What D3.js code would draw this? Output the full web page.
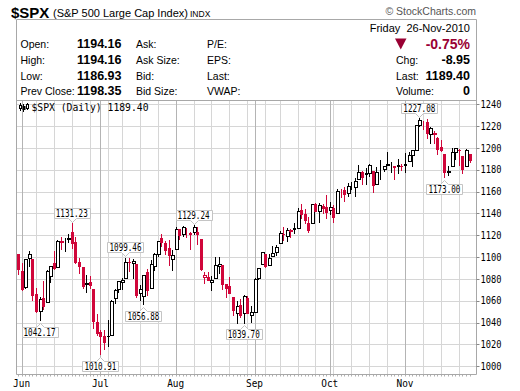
<!DOCTYPE html>
<html><head><meta charset="utf-8">
<script src="https://cdn.jsdelivr.net/npm/d3@7"></script>
<style>body{margin:0;background:#fff}svg{display:block}</style>
</head><body>
<script>
const dates = ["05-28",
"06-01","06-02","06-03","06-04","06-07","06-08","06-09","06-10","06-11","06-14","06-15","06-16","06-17","06-18","06-21","06-22","06-23","06-24","06-25","06-28","06-29","06-30",
"07-01","07-02","07-06","07-07","07-08","07-09","07-12","07-13","07-14","07-15","07-16","07-19","07-20","07-21","07-22","07-23","07-26","07-27","07-28","07-29","07-30",
"08-02","08-03","08-04","08-05","08-06","08-09","08-10","08-11","08-12","08-13","08-16","08-17","08-18","08-19","08-20","08-23","08-24","08-25","08-26","08-27","08-30","08-31",
"09-01","09-02","09-03","09-07","09-08","09-09","09-10","09-13","09-14","09-15","09-16","09-17","09-20","09-21","09-22","09-23","09-24","09-27","09-28","09-29","09-30",
"10-01","10-04","10-05","10-06","10-07","10-08","10-11","10-12","10-13","10-14","10-15","10-18","10-19","10-20","10-21","10-22","10-25","10-26","10-27","10-28","10-29",
"11-01","11-02","11-03","11-04","11-05","11-08","11-09","11-10","11-11","11-12","11-15","11-16","11-17","11-18","11-19","11-22","11-23","11-24","11-26"];

const opens = [1102.59,
1087.30,1073.01,1098.82,1098.43,1065.84,1050.81,1062.75,1058.77,1082.65,1095.00,1091.21,1114.02,1115.98,1116.16,1122.79,1113.90,1095.57,1090.93,1075.10,1077.50,1071.10,1040.56,
1031.10,1027.65,1028.09,1028.54,1062.92,1070.50,1077.23,1080.65,1095.61,1094.46,1093.85,1066.85,1064.53,1086.67,1072.14,1092.17,1102.89,1117.36,1112.84,1108.07,1098.44,
1107.53,1125.34,1121.06,1125.78,1122.07,1122.80,1122.92,1116.89,1081.48,1082.22,1077.49,1081.16,1092.08,1092.44,1075.63,1073.36,1063.20,1048.98,1056.28,1049.27,1062.90,1046.88,
1049.72,1080.66,1093.61,1102.60,1092.36,1101.15,1104.57,1113.38,1121.16,1119.43,1123.89,1126.39,1126.57,1142.82,1139.49,1131.10,1131.69,1148.64,1142.31,1146.75,1145.97,
1143.49,1144.96,1140.68,1159.81,1161.57,1158.36,1165.32,1164.28,1171.32,1177.82,1177.47,1176.83,1178.64,1166.74,1179.56,1180.52,1184.74,1184.88,1183.84,1184.47,1183.87,
1185.71,1187.86,1193.79,1198.34,1221.20,1223.24,1223.59,1213.14,1213.04,1209.07,1200.44,1194.79,1178.33,1183.75,1196.12,1198.07,1192.51,1183.70,1194.16];

const highs = [1102.59,
1094.77,1098.56,1105.67,1098.43,1071.36,1063.15,1077.74,1087.85,1092.25,1105.91,1115.59,1118.74,1117.72,1121.01,1131.23,1118.50,1099.64,1090.93,1083.56,1082.60,1071.10,1048.08,
1033.58,1032.95,1042.50,1060.89,1071.25,1078.16,1080.78,1099.46,1099.08,1098.66,1093.85,1074.70,1083.94,1088.96,1097.50,1103.73,1115.01,1120.95,1114.66,1115.90,1106.44,
1127.30,1125.44,1128.75,1126.56,1123.06,1129.24,1127.16,1116.89,1086.72,1086.25,1082.62,1100.14,1099.77,1092.44,1075.63,1081.58,1063.20,1059.38,1061.45,1065.21,1064.40,1055.14,
1081.30,1090.10,1105.10,1102.60,1103.26,1110.27,1110.88,1123.87,1127.36,1126.46,1125.44,1131.47,1144.86,1148.59,1144.38,1136.77,1148.90,1149.92,1150.00,1148.63,1157.16,
1150.30,1148.16,1162.76,1162.33,1163.87,1167.73,1168.68,1172.58,1184.38,1178.89,1181.20,1185.53,1178.64,1182.94,1189.43,1183.93,1196.14,1187.11,1183.84,1189.53,1185.46,
1195.81,1195.88,1198.30,1221.25,1227.08,1224.57,1226.84,1218.75,1215.45,1210.50,1207.43,1194.79,1183.56,1200.29,1199.97,1198.94,1192.51,1198.62,1194.16];

const lows = [1084.78,
1069.89,1072.03,1091.81,1060.50,1049.86,1042.17,1052.25,1058.77,1077.12,1089.03,1091.21,1107.13,1105.87,1113.93,1108.24,1094.18,1085.31,1071.60,1067.89,1071.45,1035.18,1028.33,
1010.91,1015.93,1018.35,1028.54,1058.24,1068.10,1070.45,1080.65,1087.68,1080.53,1063.32,1061.11,1056.88,1065.25,1072.14,1087.88,1101.30,1109.78,1103.11,1092.82,1088.01,
1107.53,1116.76,1119.46,1118.81,1107.17,1120.91,1111.58,1088.55,1076.69,1079.00,1069.49,1081.16,1085.76,1070.66,1063.91,1067.08,1046.68,1039.83,1045.40,1039.70,1048.79,1040.88,
1049.72,1080.39,1093.61,1091.15,1092.36,1101.15,1101.66,1113.38,1115.58,1114.63,1118.88,1122.43,1126.57,1136.22,1131.58,1122.79,1131.69,1142.00,1132.09,1140.26,1136.08,
1139.42,1131.87,1140.68,1154.85,1151.41,1155.58,1162.02,1155.71,1171.32,1166.71,1167.12,1174.55,1159.71,1166.74,1171.17,1178.99,1184.74,1177.72,1171.70,1177.10,1179.70,
1177.65,1187.86,1183.56,1198.34,1220.29,1217.55,1208.94,1204.33,1204.49,1194.08,1197.15,1173.00,1175.44,1183.75,1189.96,1184.58,1176.91,1183.70,1186.93];

const closes = [1089.41,
1070.71,1098.38,1102.83,1064.88,1050.47,1062.00,1055.69,1086.84,1091.60,1089.63,1115.23,1114.61,1116.04,1117.51,1113.20,1095.31,1092.04,1073.69,1076.76,1074.57,1041.24,1030.71,
1027.37,1022.58,1028.06,1060.27,1070.25,1077.96,1078.75,1095.34,1095.17,1096.48,1064.88,1071.25,1083.48,1069.59,1093.67,1102.66,1115.01,1113.84,1106.13,1101.53,1101.60,
1125.86,1120.46,1127.24,1125.81,1121.64,1127.79,1121.06,1089.47,1083.61,1079.25,1079.38,1092.54,1094.16,1075.63,1071.69,1067.36,1051.87,1055.33,1047.22,1064.59,1048.92,1049.33,
1080.29,1090.10,1104.51,1091.84,1098.87,1104.18,1109.55,1121.90,1121.10,1125.07,1124.66,1125.59,1142.71,1139.78,1134.28,1124.83,1148.67,1142.16,1147.70,1144.73,1141.20,
1146.24,1137.03,1160.75,1159.97,1158.06,1165.15,1165.32,1169.77,1178.10,1173.81,1176.19,1184.71,1165.90,1178.17,1180.26,1183.08,1185.62,1185.64,1182.45,1183.78,1183.26,
1184.38,1193.57,1197.96,1221.06,1225.85,1223.25,1213.40,1218.71,1213.54,1199.21,1197.75,1178.34,1178.59,1196.69,1199.73,1197.84,1180.73,1198.35,1189.40];

const priorClose = 1103.06;
const yTicks = [1000,1020,1040,1060,1080,1100,1120,1140,1160,1180,1200,1220,1240];
const monthLabels = ["Jun","Jul","Aug","Sep","Oct","Nov"];
const annotIdx  = [6, 15, 23, 30, 35, 49, 63, 112, 119];
const annotKind = ["low","high","low","high","low","high","low","high","low"];

const headerRows = [
  ["Open:","1194.16","Ask:","P/E:"],
  ["High:","1194.16","Ask Size:","EPS:"],
  ["Low:","1186.93","Bid:","Last:"],
  ["Prev Close:","1198.35","Bid Size:","VWAP:"]
];
const headerRight = [["Chg:","-8.95"],["Last:","1189.40"],["Volume:","0"]];

const W = 520, H = 391;
const L = 16.5, R = 476.5, T = 100.5, B = 374.5, TOP = 19.5;
const RED = "#d0063a", MAROON = "#990033";
const SANS = "'Liberation Sans', Arial, sans-serif";
const MONO = "'DejaVu Sans Mono', monospace";

const svg = d3.select("body").append("svg").attr("width", W).attr("height", H);

const x = d3.scaleLinear().domain([0, dates.length - 1]).range([18, 469.5]);
const y = d3.scaleLinear().domain([1000, 1240]).range([366.3, 104.3]);
const px = v => Math.round(v) + 0.5;

// ---- header ----
svg.append("text").attr("x", 11).attr("y", 17.5).attr("font-family", SANS)
  .attr("font-size", 15).attr("font-weight", "bold").text("$SPX");
svg.append("text").attr("x", 53).attr("y", 16.5).attr("font-family", SANS)
  .attr("font-size", 11).text("(S&P 500 Large Cap Index)");
svg.append("text").attr("x", 190).attr("y", 16.5).attr("font-family", SANS)
  .attr("font-size", 8.5).text("INDX");
svg.append("text").attr("x", 476).attr("y", 15).attr("text-anchor", "end").attr("font-family", SANS)
  .attr("font-size", 10.5).attr("fill", "#555").text("\u00A9 StockCharts.com");

const rowY = [48, 64, 80, 95];
headerRows.forEach((r, i) => {
  const g = svg.append("g").attr("font-family", SANS);
  g.append("text").attr("x", 20.5).attr("y", rowY[i]).attr("font-size", 10.5).text(r[0]);
  g.append("text").attr("x", 77).attr("y", rowY[i]).attr("font-size", 12.5).attr("font-weight", "bold").text(r[1]);
  g.append("text").attr("x", 136).attr("y", rowY[i]).attr("font-size", 10.5).text(r[2]);
  g.append("text").attr("x", 207).attr("y", rowY[i]).attr("font-size", 10.5).text(r[3]);
});
svg.append("text").attr("x", 470).attr("y", 31.5).attr("text-anchor", "end").attr("font-family", SANS)
  .attr("font-size", 11).attr("xml:space", "preserve").text("Friday  26-Nov-2010");
svg.append("path").attr("d", "M395,38.5 L406.5,38.5 L400.75,49.5 Z").attr("fill", MAROON);
svg.append("text").attr("x", 470).attr("y", 48.5).attr("text-anchor", "end").attr("font-family", SANS)
  .attr("font-size", 14).attr("font-weight", "bold").attr("fill", MAROON).text("-0.75%");
headerRight.forEach((r, i) => {
  svg.append("text").attr("x", 396).attr("y", rowY[i + 1]).attr("font-family", SANS).attr("font-size", 10.5).text(r[0]);
  svg.append("text").attr("x", 470).attr("y", rowY[i + 1]).attr("text-anchor", "end").attr("font-family", SANS)
    .attr("font-size", 12.5).attr("font-weight", "bold").text(r[1]);
});

// ---- grid ----
const grid = svg.append("g");
yTicks.forEach(v => {
  grid.append("line").attr("x1", L).attr("x2", R).attr("y1", px(y(v))).attr("y2", px(y(v)))
    .attr("stroke", "#d6d6d6");
});
const parsed = dates.map(d => new Date(2010, +d.slice(0, 2) - 1, +d.slice(3)));
const monthStarts = [], weekStarts = [];
parsed.forEach((d, i) => {
  if (i === 0) return;
  const p = parsed[i - 1];
  if (d.getMonth() !== p.getMonth()) monthStarts.push(i);
  else if (d.getDay() < p.getDay()) weekStarts.push(i);
});
weekStarts.forEach(i => {
  grid.append("line").attr("x1", px(x(i))).attr("x2", px(x(i))).attr("y1", T).attr("y2", B).attr("stroke", "#d6d6d6");
});
monthStarts.forEach(i => {
  grid.append("line").attr("x1", px(x(i))).attr("x2", px(x(i))).attr("y1", T).attr("y2", B).attr("stroke", "#b4b4b4");
});

// ---- frame ----
const frame = svg.append("g").attr("stroke", "#a8a8a8").attr("fill", "none");
frame.append("path").attr("d", `M${L},${B} V${TOP} H${R} V${B} Z`);
frame.append("line").attr("x1", L).attr("x2", R).attr("y1", T).attr("y2", T);

// day ticks
dates.forEach((d, i) => {
  svg.append("line").attr("x1", px(x(i))).attr("x2", px(x(i))).attr("y1", B + 0.5).attr("y2", B + 2)
    .attr("stroke", "#b0b0b0");
});
// right ticks + labels
yTicks.forEach(v => {
  svg.append("line").attr("x1", R).attr("x2", R + 3).attr("y1", px(y(v))).attr("y2", px(y(v))).attr("stroke", "#888");
  svg.append("text").attr("x", 480.5).attr("y", y(v) + 3.6).attr("font-family", MONO).attr("font-size", 10)
    .attr("textLength", 21).attr("lengthAdjust", "spacingAndGlyphs").text(v);
});
// month labels
monthStarts.forEach((i, k) => {
  svg.append("text").attr("x", x(i)).attr("y", 387).attr("text-anchor", "middle").attr("font-family", MONO)
    .attr("font-size", 10).attr("textLength", 17).attr("lengthAdjust", "spacingAndGlyphs").text(monthLabels[k]);
});

// ---- candles ----
const cg = svg.append("g");
dates.forEach((d, i) => {
  const o = opens[i], h = highs[i], l = lows[i], c = closes[i];
  const pc = i === 0 ? priorClose : closes[i - 1];
  const col = c < pc ? RED : "#000";
  const cx = Math.round(x(i));
  cg.append("line").attr("x1", cx + 0.5).attr("x2", cx + 0.5)
    .attr("y1", Math.round(y(h))).attr("y2", Math.round(y(l)) + 1).attr("stroke", col);
  const top = Math.round(y(Math.max(o, c))), bot = Math.round(y(Math.min(o, c)));
  if (c < o) {
    cg.append("rect").attr("x", cx - 1).attr("width", 3).attr("y", top).attr("height", Math.max(1, bot - top + 1))
      .attr("fill", col);
  } else {
    cg.append("rect").attr("x", cx - 0.5).attr("width", 3).attr("y", top + 0.5).attr("height", Math.max(0, bot - top))
      .attr("fill", "#fff").attr("stroke", col);
  }
});

// ---- annotations ----
const ag = svg.append("g");
annotIdx.forEach((i, k) => {
  const cx = x(i), bw = 36, bh = 10;
  const x0 = Math.round(cx - bw / 2) + 0.5, x1 = x0 + bw;
  const cxr = Math.round(cx) + 0.5;
  let path, ty, val;
  if (annotKind[k] === "high") {
    val = highs[i];
    const yb = Math.round(y(val) - 5.5) + 0.5, yt = yb - bh;
    path = `M${x0},${yt} H${x1} V${yb} H${cxr + 4} L${cxr},${yb + 4} L${cxr - 4},${yb} H${x0} Z`;
    ty = yt + 8.5;
  } else {
    val = lows[i];
    const yt = Math.round(y(val) + 6.5) + 0.5, yb = yt + bh;
    path = `M${x0},${yt} H${cxr - 4} L${cxr},${yt - 4} L${cxr + 4},${yt} H${x1} V${yb} H${x0} Z`;
    ty = yt + 8.5;
  }
  ag.append("path").attr("d", path).attr("fill", "#fff").attr("stroke", "#c4c4c4");
  ag.append("text").attr("x", cx).attr("y", ty).attr("text-anchor", "middle").attr("font-family", MONO)
    .attr("font-size", 10).attr("textLength", 32).attr("lengthAdjust", "spacingAndGlyphs").text(val.toFixed(2));
});

// ---- legend ----
const lg = svg.append("g");
lg.append("path").attr("d", "M20.5,103 V111 M23.5,104 V112 M27.5,103 V110").attr("stroke", "#000");
lg.append("rect").attr("x", 19.5).attr("y", 105.5).attr("width", 2).attr("height", 3).attr("fill", "#fff").attr("stroke", "#000");
lg.append("rect").attr("x", 22.5).attr("y", 106).attr("width", 3).attr("height", 4).attr("fill", "#000");
lg.append("rect").attr("x", 26.5).attr("y", 104.5).attr("width", 2).attr("height", 4).attr("fill", "#fff").attr("stroke", "#000");
lg.append("text").attr("x", 31.5).attr("y", 111).attr("font-family", MONO).attr("font-size", 10)
  .attr("textLength", 117).attr("lengthAdjust", "spacingAndGlyphs").text("$SPX (Daily) 1189.40");
</script>
</body></html>
